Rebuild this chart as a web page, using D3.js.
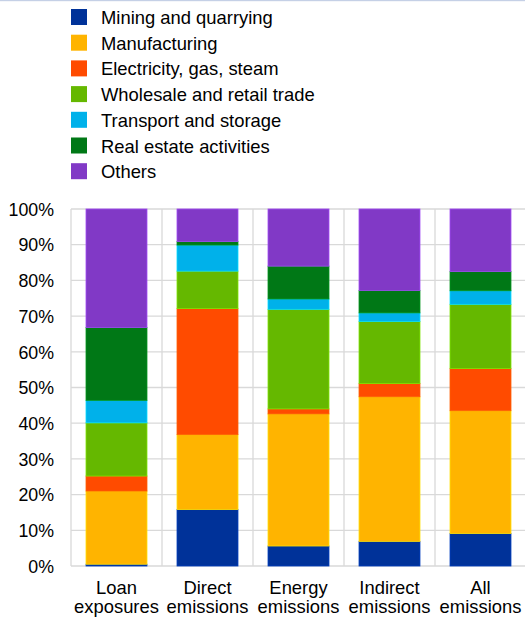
<!DOCTYPE html>
<html>
<head>
<meta charset="utf-8">
<script src="https://cdn.jsdelivr.net/npm/d3@7"></script>
<style>
  html, body { margin: 0; padding: 0; background: #fff; }
  svg { display: block; font-family: "Liberation Sans", Arial, sans-serif; }
</style>
</head>
<body>
<svg id="chart" width="525" height="617"></svg>
<script>
const categories = [["Loan", "exposures"], ["Direct", "emissions"], ["Energy", "emissions"], ["Indirect", "emissions"], ["All", "emissions"]];
const seriesNames = ["Mining and quarrying", "Manufacturing", "Electricity, gas, steam", "Wholesale and retail trade", "Transport and storage", "Real estate activities", "Others"];
const seriesColors = ["#003299", "#FFB400", "#FF4B00", "#65B800", "#00B1EA", "#007816", "#8139C6"];
// values in % per category, one array per series
const mining        = [0.5, 15.8, 5.6, 6.9, 9.1];
const manufacturing = [20.5, 21.0, 37.0, 40.5, 34.4];
const electricity   = [4.2, 35.3, 1.4, 3.7, 11.8];
const wholesale     = [14.9, 10.5, 27.9, 17.4, 18.0];
const transport     = [6.3, 7.3, 2.9, 2.4, 3.8];
const realEstate    = [20.4, 1.0, 9.2, 6.3, 5.4];
const others        = [33.2, 9.1, 16.0, 22.8, 17.5];
const yTicks = [0, 10, 20, 30, 40, 50, 60, 70, 80, 90, 100];

const seriesValues = [mining, manufacturing, electricity, wholesale, transport, realEstate, others];
const keys = seriesNames;
const table = categories.map((c, i) => {
  const row = { cat: c.join(" ") };
  keys.forEach((k, j) => row[k] = seriesValues[j][i]);
  return row;
});

const svg = d3.select("#chart");
const margin = { left: 71, right: 526, top: 209, bottom: 566 };

// top border line
svg.append("rect").attr("x", 0).attr("y", 0).attr("width", 525).attr("height", 1.2).attr("fill", "#c5d0e6");

const x = d3.scaleBand().domain(table.map(d => d.cat)).range([margin.left, margin.right]).paddingInner(0).paddingOuter(0);
const y = d3.scaleLinear().domain([0, 100]).range([margin.bottom, margin.top]);

const grid = svg.append("g");
grid.selectAll("line.h").data(yTicks).join("line")
  .attr("x1", margin.left).attr("x2", margin.right)
  .attr("y1", d => y(d)).attr("y2", d => y(d))
  .attr("stroke", "#d9d9d9").attr("stroke-width", 1.3);
const bounds = table.map(d => x(d.cat)).concat([margin.right]);
grid.selectAll("line.v").data(bounds).join("line")
  .attr("x1", d => d).attr("x2", d => d)
  .attr("y1", margin.top).attr("y2", margin.bottom)
  .attr("stroke", "#d9d9d9").attr("stroke-width", 1.3);

const stack = d3.stack().keys(keys)(table);
const barW = x.bandwidth() * 0.67;
const off = (x.bandwidth() - barW) / 2;

svg.append("g").selectAll("g").data(stack).join("g")
  .attr("fill", (d, i) => seriesColors[i])
  .attr("stroke", (d, i) => d3.color(seriesColors[i]).brighter(0.6))
  .attr("stroke-width", 0.8)
  .selectAll("rect").data(d => d).join("rect")
  .attr("x", d => x(d.data.cat) + off)
  .attr("width", barW)
  .attr("y", d => y(d[1]))
  .attr("height", d => y(d[0]) - y(d[1]));

const yAxis = d3.axisLeft(y).tickValues(yTicks).tickFormat(d => d + "%").tickSize(0).tickPadding(0);
const ya = svg.append("g").attr("transform", `translate(54,0)`).call(yAxis);
ya.select(".domain").remove();
ya.selectAll("text").attr("font-size", "17.8px").attr("fill", "#000")
  .attr("font-family", "Liberation Sans, Arial, sans-serif").attr("dy", "0.35em");

const xa = svg.append("g");
table.forEach((d, i) => {
  const cx = x(d.cat) + x.bandwidth() / 2;
  const t = xa.append("text")
    .attr("x", cx)
    .attr("text-anchor", "middle")
    .attr("font-size", "18.4px").attr("fill", "#000");
  t.append("tspan").attr("x", cx).attr("y", 594).text(categories[i][0]);
  t.append("tspan").attr("x", cx).attr("y", 613).text(categories[i][1]);
});

const legend = svg.append("g");
seriesNames.forEach((n, i) => {
  const base = 24 + i * 25.7;
  legend.append("rect").attr("x", 71).attr("y", base - 15).attr("width", 16).attr("height", 16).attr("fill", seriesColors[i]);
  legend.append("text").attr("x", 101).attr("y", base).attr("font-size", "18.4px").attr("fill", "#000").text(n);
});
</script>
</body>
</html>
